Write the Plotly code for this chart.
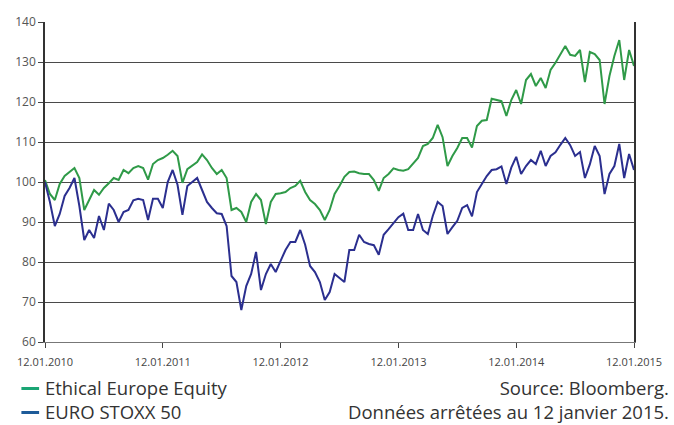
import pandas as pd
import plotly.graph_objects as go

start_date = "2010-01-12"
end_date = "2015-01-12"
n_points = 121

ethical = [100.5, 97, 95.5, 99.5, 101.5, 102.5, 103.5, 101, 93, 95.5,
           98, 96.8, 98.5, 99.7, 101, 100.5, 103, 102.2, 103.5, 104,
           103.5, 100.6, 104.5, 105.5, 106, 106.8, 107.8, 106.5, 99.8, 103.2,
           104, 105, 106.9, 105.5, 103.5, 102, 103, 101, 93, 93.5,
           92.5, 90, 95, 97, 95.5, 89.5, 95, 97, 97.2, 97.5,
           98.5, 99, 100.3, 97.5, 95.5, 94.5, 93, 90.5, 93, 97,
           99, 101.3, 102.5, 102.6, 102.2, 102, 102, 100.5, 97.8, 101,
           102, 103.4, 103, 102.8, 103.2, 104.5, 106, 109, 109.5, 111,
           114.3, 111.2, 104, 106.5, 108.5, 111, 111, 108.6, 114, 115.3,
           115.5, 120.8, 120.5, 120.2, 116.5, 120.5, 123, 119.5, 125.5, 127,
           124, 126, 123.5, 128, 129.8, 132, 134, 131.8, 131.5, 133,
           125, 132.5, 132, 130.5, 119.5, 126.5, 131.5, 135.5, 125.5, 133,
           129]

stoxx = [100, 95, 89, 92, 96.5, 98.5, 101, 94, 85.5, 88,
         86, 91.5, 88, 94.6, 93, 90, 92.5, 93, 95.4, 95.8,
         95.5, 90.5, 95.8, 95.8, 93.5, 100, 103, 99.3, 91.8, 99,
         100, 101, 98, 95, 93.5, 92.2, 92, 89, 76.5, 75,
         68, 74, 77, 82.5, 73, 77, 79.5, 77.5, 80.3, 83,
         85, 85, 88, 84.3, 79, 77.5, 75, 70.5, 72.5, 77,
         76, 75, 83, 83, 86.8, 85, 84.5, 84.2, 81.8, 86.8,
         88.2, 89.8, 91.2, 92.1, 88, 88, 92, 88, 87, 91.5,
         95, 94, 87, 88.7, 90.3, 93.5, 94.2, 91.4, 97.5, 99.5,
         101.5, 103, 103.2, 103.9, 99.5, 103.6, 106.3, 102, 104, 105.5,
         104.5, 107.8, 104, 106.5, 107.4, 109.3, 111, 109.2, 106.5, 107.5,
         101, 104.4, 109, 106.5, 97, 102, 104, 109.5, 101, 107,
         103]

tick_dates = ["2010-01-12", "2011-01-12", "2012-01-12", "2013-01-12", "2014-01-12", "2015-01-12"]
tick_labels = ["12.01.2010", "12.01.2011", "12.01.2012", "12.01.2013", "12.01.2014", "12.01.2015"]
series_names = ["Ethical Europe Equity", "EURO STOXX 50"]
source_lines = ["Source: Bloomberg.", "Données arrêtées au 12 janvier 2015."]

dates = pd.date_range(start_date, end_date, periods=n_points)

FONT = "'Open Sans', Roboto, sans-serif"
GREEN = "#2f9a48"
BLUE = "#2b2f8f"

fig = go.Figure()
fig.add_trace(go.Scatter(x=dates, y=ethical, mode="lines", name=series_names[0],
                         line=dict(color=GREEN, width=2), showlegend=False))
fig.add_trace(go.Scatter(x=dates, y=stoxx, mode="lines", name=series_names[1],
                         line=dict(color=BLUE, width=2), showlegend=False))

W, H = 674, 425
L, R, T, B = 45, 30, 22, 83
pw, ph = W - L - R, H - T - B


def px(x):
    return (x - L) / pw


def py(y):
    return (H - B - y) / ph


fig.update_layout(
    width=W, height=H,
    margin=dict(l=L, r=R, t=T, b=B),
    paper_bgcolor="white", plot_bgcolor="white",
    font=dict(family=FONT, color="#444"),
    xaxis=dict(
        range=[pd.Timestamp(start_date), pd.Timestamp(end_date)],
        tickmode="array", tickvals=pd.to_datetime(tick_dates), ticktext=tick_labels,
        showgrid=False, zeroline=False,
        showline=True, linecolor="#777", linewidth=1,
        ticks="outside", ticklen=5, tickcolor="#444", tickwidth=1,
        tickfont=dict(size=11, color="#444", family=FONT),
        ticklabelstandoff=5,
    ),
    yaxis=dict(
        range=[60, 140], dtick=10, tick0=60,
        showgrid=True, gridcolor="#4a4a4a", gridwidth=1,
        zeroline=False,
        showline=True, linecolor="#333", linewidth=1.5, mirror=True,
        ticks="outside", ticklen=5, tickcolor="#444", tickwidth=1,
        tickfont=dict(size=12, color="#555", family=FONT),
    ),
)

FS = 18.5
legend_colors = ["#1aa574", "#1d5b99"]
marker_y = [388.5, 412.5]
for col, yy in zip(legend_colors, marker_y):
    fig.add_shape(type="line", xref="paper", yref="paper",
                  x0=px(21), x1=px(39), y0=py(yy), y1=py(yy),
                  line=dict(color=col, width=3))

fig.add_annotation(xref="paper", yref="paper", x=px(44), y=py(424.5),
                   text="<br>".join(series_names), showarrow=False,
                   xanchor="left", yanchor="bottom", align="left", borderpad=0,
                   font=dict(size=FS, color="#333", family=FONT))
fig.add_annotation(xref="paper", yref="paper", x=px(681), y=py(424.5),
                   text="<br>".join(source_lines), showarrow=False,
                   xanchor="right", yanchor="bottom", align="right", borderpad=0,
                   font=dict(size=FS, color="#333", family=FONT))

fig.write_html("out.html", config={"displayModeBar": False})

with open("out.html", encoding="utf-8") as f:
    html = f.read()
html = html.replace("<head>", "<head><style>html,body{margin:0;padding:0;}</style>", 1)
with open("out.html", "w", encoding="utf-8") as f:
    f.write(html)
